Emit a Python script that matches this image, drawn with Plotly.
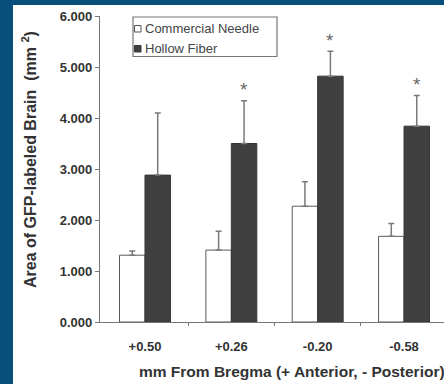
import plotly.graph_objects as go

categories = ["+0.50", "+0.26", "-0.20", "-0.58"]
series_names = ["Commercial Needle", "Hollow Fiber"]
needle_vals = [1.31, 1.41, 2.27, 1.68]
needle_err = [0.08, 0.37, 0.48, 0.25]
fiber_vals = [2.88, 3.50, 4.82, 3.84]
fiber_err = [1.22, 0.84, 0.49, 0.60]
signif = ["", "*", "*", "*"]
y_ticks = [0, 1, 2, 3, 4, 5, 6]
y_tick_labels = ["0.000", "1.000", "2.000", "3.000", "4.000", "5.000", "6.000"]
x_title = "mm From Bregma (+ Anterior, - Posterior)"
y_title = "Area of GFP-labeled Brain  (mm <sup>2</sup>)"

FONT = "Liberation Sans, Arial, sans-serif"
BLUE = "#07507c"
TXT = "#333333"

L, R, T, B = 100, 444, 16, 322
def px(p):
    return (p - L) / (R - L)
def py(p):
    return (B - p) / (B - T)

xs = list(range(len(categories)))

fig = go.Figure()
fig.add_trace(go.Bar(
    x=xs, y=needle_vals, name=series_names[0], showlegend=False,
    marker=dict(color="white", line=dict(color="#5a5a5a", width=1)),
    error_y=dict(type="data", array=needle_err, arrayminus=[0] * 4, symmetric=False,
                 color="#7a7a7a", thickness=1.5, width=3),
))
fig.add_trace(go.Bar(
    x=xs, y=fiber_vals, name=series_names[1], showlegend=False,
    marker=dict(color="#404040", line=dict(color="#353535", width=1)),
    error_y=dict(type="data", array=fiber_err, arrayminus=[0] * 4, symmetric=False,
                 color="#7a7a7a", thickness=1.5, width=3),
))

for i, s in enumerate(signif):
    if s:
        fig.add_annotation(x=i + 0.147, y=fiber_vals[i] + fiber_err[i], text=s,
                           showarrow=False, yanchor="middle", yshift=11,
                           font=dict(size=19, color="#6a6a6a", family=FONT))

# blue frame strips (left and top)
fig.add_shape(type="rect", xref="paper", yref="paper",
              x0=px(-20), x1=px(13), y0=py(400), y1=py(-20),
              fillcolor=BLUE, line=dict(width=0), layer="below")
fig.add_shape(type="rect", xref="paper", yref="paper",
              x0=px(-20), x1=px(460), y0=py(5), y1=py(-20),
              fillcolor=BLUE, line=dict(width=0), layer="below")

# manual legend
fig.add_shape(type="rect", xref="paper", yref="paper",
              x0=px(133), x1=px(277), y0=py(56.5), y1=py(17),
              fillcolor="white", line=dict(color="#777777", width=1.2))
fig.add_shape(type="rect", xref="paper", yref="paper",
              x0=px(134.5), x1=px(141), y0=py(32), y1=py(25.5),
              fillcolor="white", line=dict(color="#555555", width=1))
fig.add_shape(type="rect", xref="paper", yref="paper",
              x0=px(134.5), x1=px(141), y0=py(52), y1=py(45.5),
              fillcolor="#404040", line=dict(color="#353535", width=1))
for name, yc in zip(series_names, [29, 49]):
    fig.add_annotation(xref="paper", yref="paper", x=px(143), y=py(yc), text=name,
                       xanchor="left", yanchor="middle", showarrow=False,
                       font=dict(size=13, color="#444444", family=FONT))

# axis titles
fig.add_annotation(xref="paper", yref="paper", x=px(137), y=py(371.5),
                   text="<b>" + x_title + "</b>", showarrow=False,
                   xanchor="left", yanchor="middle",
                   font=dict(size=15.5, color=TXT, family=FONT))
fig.add_annotation(xref="paper", yref="paper", x=px(29), y=py(160),
                   text="<b>" + y_title + "</b>", showarrow=False, textangle=-90,
                   xanchor="center", yanchor="middle",
                   font=dict(size=16, color=TXT, family=FONT))

fig.update_layout(
    width=444, height=384,
    margin=dict(l=L, r=0, t=T, b=384 - B, autoexpand=False),
    paper_bgcolor="white",
    plot_bgcolor="white",
    barmode="group", bargap=0.41, bargroupgap=0,
    showlegend=False,
    font=dict(family=FONT, color=TXT),
)

fig.update_xaxes(
    range=[-0.521, 3.463],
    tickvals=xs, ticktext=["<b>" + c + "</b>" for c in categories],
    tickfont=dict(size=13, color=TXT),
    ticks="", ticklabelstandoff=12,
    minor=dict(tickvals=[0.5, 1.5, 2.5], ticks="outside", ticklen=3,
               tickcolor="#777777", tickwidth=1.2, showgrid=False),
    showline=True, linecolor="#777777", linewidth=1.3,
    showgrid=False, zeroline=False,
)

fig.update_yaxes(
    range=[0, 6],
    tickvals=y_ticks, ticktext=["<b>" + t + "</b>" for t in y_tick_labels],
    tickfont=dict(size=13, color=TXT),
    ticks="outside", ticklen=4, tickcolor="#777777", tickwidth=1.2,
    showline=True, linecolor="#777777", linewidth=1.3,
    showgrid=False, zeroline=False,
)

fig.write_html("out.html",
               config={"displayModeBar": False, "responsive": False},
               post_script="document.documentElement.style.overflow='hidden';"
                           "document.documentElement.style.background='white';"
                           "document.body.style.margin='0';"
                           "document.body.style.overflow='hidden';")
